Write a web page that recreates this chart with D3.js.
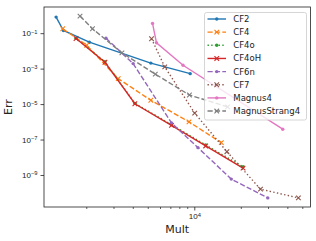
<!DOCTYPE html>
<html>
<head>
<meta charset="utf-8">
<script src="https://cdn.jsdelivr.net/npm/d3@7"></script>
<style>
  body { margin: 0; background: #fff; }
  svg { display: block; font-family: "DejaVu Sans", sans-serif; }
</style>
</head>
<body>
<svg id="chart"></svg>
<script>
// series names, in legend order
const names = ['CF2', 'CF4', 'CF4o', 'CF4oH', 'CF6n', 'CF7', 'Magnus4', 'MagnusStrang4'];

// Mult (x) and Err (y) values
const cf2X = [1276, 1422, 2093, 5233, 9408];
const cf2Y = [0.806, 0.142, 0.0309, 2.05e-3, 5.21e-4];
const cf4X = [1409, 2013, 3219, 5233, 9243, 14958];
const cf4Y = [0.177, 0.0209, 2.71e-4, 1.64e-5, 9.93e-7, 6.67e-8];
const cf4oX = [1717, 2642, 4126, 7117, 11846, 20679];
const cf4oY = [0.051, 2.45e-3, 1.1e-5, 6.9e-7, 4.94e-8, 2.92e-9];
const cf4oHX = [1717, 2642, 4126, 7117, 11846, 20679];
const cf4oHY = [0.0501, 2.28e-3, 1.04e-5, 6.29e-7, 4.34e-8, 2.46e-9];
const cf6nX = [2683, 4022, 7117, 10566, 17353, 29890];
const cf6nY = [0.0518, 1.92e-3, 8.72e-7, 3.48e-8, 5.86e-10, 5.1e-11];
const cf7X = [5288, 6442, 10060, 16255, 26820, 47160];
const cf7Y = [0.0482, 1.25e-3, 3.09e-6, 2.06e-8, 1.59e-10, 5.1e-11];
const magnus4X = [5367, 5694, 8456, 37350];
const magnus4Y = [0.355, 0.0286, 1.54e-3, 3.83e-7];
const strang4X = [1822, 2194, 3401, 5594, 9299, 16430];
const strang4Y = [0.918, 0.177, 7.75e-3, 4.88e-4, 3.24e-5, 7.0e-6];

const yTickValues = [1e-1, 1e-3, 1e-5, 1e-7, 1e-9];
const xTickValues = [1e4];

const xs = [cf2X, cf4X, cf4oX, cf4oHX, cf6nX, cf7X, magnus4X, strang4X];
const ys = [cf2Y, cf4Y, cf4oY, cf4oHY, cf6nY, cf7Y, magnus4Y, strang4Y];

/* styles: colour, dash, marker */
const colors = ['#1f77b4', '#ff7f0e', '#2ca02c', '#d62728', '#9467bd', '#8c564b', '#e377c2', '#7f7f7f'];
const dashes = ['none', '5.2,2.2', '1.4,2.3', 'none', '5.2,2.2', '1.4,2.3', 'none', '5.2,2.2'];
const markers = ['dot', 'x', 'dot', 'x', 'dot', 'x', 'dot', 'x'];

const width = 316, height = 241;
const margin = { top: 7, right: 5.5, bottom: 34, left: 44 };

const svg = d3.select('#chart').attr('width', width).attr('height', height);

// log domains with matplotlib-like 5% margins
function logDomain(arrays) {
  const all = arrays.flat();
  const lo = Math.log10(d3.min(all)), hi = Math.log10(d3.max(all));
  const pad = (hi - lo) * 0.05;
  return [Math.pow(10, lo - pad), Math.pow(10, hi + pad)];
}

const xScale = d3.scaleLog().domain(logDomain(xs)).range([margin.left, width - margin.right]);
const yScale = d3.scaleLog().domain(logDomain(ys)).range([height - margin.bottom, margin.top]);

// minor x ticks 2..9 per decade inside the domain
const xMinor = [];
[1e3, 1e4].forEach(dec => {
  for (let k = 2; k <= 9; k++) {
    const v = dec * k;
    if (v > xScale.domain()[0] && v < xScale.domain()[1]) xMinor.push(v);
  }
});

const axisColor = '#222';

/* series */
const plot = svg.append('g');
names.forEach((name, i) => {
  const pts = xs[i].map((x, j) => [x, ys[i][j]]);
  plot.append('path')
    .datum(pts)
    .attr('fill', 'none')
    .attr('stroke', colors[i])
    .attr('stroke-width', 1.4)
    .attr('stroke-dasharray', dashes[i])
    .attr('d', d3.line().x(d => xScale(d[0])).y(d => yScale(d[1])));
  drawMarkers(plot, pts.map(d => [xScale(d[0]), yScale(d[1])]), markers[i], colors[i]);
});

function drawMarkers(g, pts, type, color) {
  if (type === 'dot') {
    g.selectAll(null).data(pts).enter().append('circle')
      .attr('cx', d => d[0]).attr('cy', d => d[1]).attr('r', 1.7)
      .attr('fill', color);
  } else {
    const s = 2.3;
    g.selectAll(null).data(pts).enter().append('path')
      .attr('d', d => `M${d[0] - s},${d[1] - s}L${d[0] + s},${d[1] + s}M${d[0] - s},${d[1] + s}L${d[0] + s},${d[1] - s}`)
      .attr('stroke', color).attr('stroke-width', 1.1).attr('fill', 'none');
  }
}

/* axes */
function supLabel(sel, expOf) {
  sel.each(function (d) {
    const t = d3.select(this).text('');
    t.append('tspan').text('10');
    t.append('tspan').attr('dy', '-0.45em').attr('font-size', '0.72em').text(expOf(d));
  });
}
const expText = d => {
  const e = Math.round(Math.log10(d));
  return (e < 0 ? '\u2212' : '') + Math.abs(e);
};

const xAxisY = height - margin.bottom;
svg.append('g')
  .attr('transform', `translate(0,${xAxisY})`)
  .call(d3.axisBottom(xScale).tickValues(xMinor).tickSize(2).tickFormat(''))
  .call(g => g.select('.domain').remove())
  .call(g => g.selectAll('line').attr('stroke', axisColor).attr('stroke-width', 0.7));
svg.append('g')
  .attr('transform', `translate(0,${xAxisY})`)
  .call(d3.axisBottom(xScale).tickValues(xTickValues).tickSize(3.5).tickPadding(3))
  .call(g => g.select('.domain').remove())
  .call(g => g.selectAll('line').attr('stroke', axisColor).attr('stroke-width', 0.8))
  .call(g => g.selectAll('text').attr('font-size', 8).attr('fill', axisColor).call(supLabel, expText));

svg.append('g')
  .attr('transform', `translate(${margin.left},0)`)
  .call(d3.axisLeft(yScale).tickValues(yTickValues).tickSize(3.5).tickPadding(3))
  .call(g => g.select('.domain').remove())
  .call(g => g.selectAll('line').attr('stroke', axisColor).attr('stroke-width', 0.8))
  .call(g => g.selectAll('text').attr('font-size', 8).attr('fill', axisColor).call(supLabel, expText));

// frame
svg.append('rect')
  .attr('x', margin.left).attr('y', margin.top)
  .attr('width', width - margin.left - margin.right)
  .attr('height', height - margin.top - margin.bottom)
  .attr('fill', 'none').attr('stroke', axisColor).attr('stroke-width', 0.8);

// axis titles
svg.append('text')
  .attr('x', (margin.left + width - margin.right) / 2).attr('y', 232.5)
  .attr('text-anchor', 'middle').attr('font-size', 11).attr('fill', axisColor)
  .text('Mult');
svg.append('text')
  .attr('transform', `translate(11.5,${(margin.top + height - margin.bottom) / 2}) rotate(-90)`)
  .attr('text-anchor', 'middle').attr('font-size', 11).attr('fill', axisColor)
  .text('Err');

/* legend */
const lg = svg.append('g').attr('transform', 'translate(204.5,12.5)');
lg.append('rect')
  .attr('width', 102).attr('height', 107.5).attr('rx', 2)
  .attr('fill', 'white').attr('fill-opacity', 0.8)
  .attr('stroke', '#cccccc').attr('stroke-width', 0.8);
names.forEach((name, i) => {
  const y = 6.5 + i * 13.15;
  lg.append('line')
    .attr('x1', 3).attr('x2', 21.5).attr('y1', y).attr('y2', y)
    .attr('stroke', colors[i]).attr('stroke-width', 1.4)
    .attr('stroke-dasharray', dashes[i]);
  drawMarkers(lg, [[12.25, y]], markers[i], colors[i]);
  lg.append('text')
    .attr('x', 28.8).attr('y', y + 3)
    .attr('font-size', 8.5).attr('fill', axisColor)
    .text(name);
});
</script>
</body>
</html>
